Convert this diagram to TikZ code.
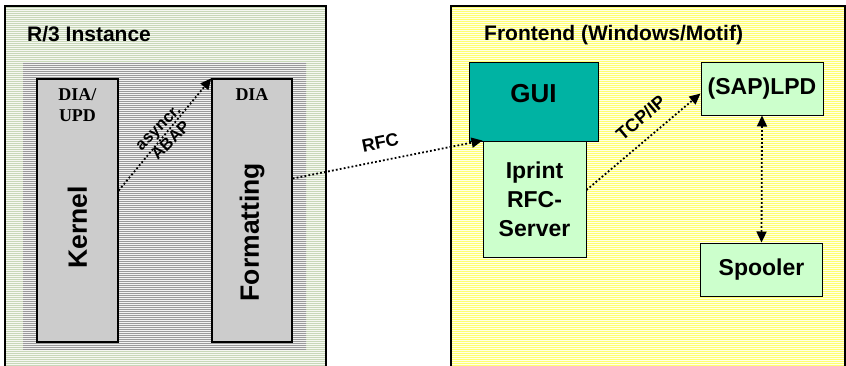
\documentclass[tikz,border=0pt]{standalone}
\usepackage{fontspec}
\setmainfont{Liberation Sans}
\newfontfamily\serifbold{Liberation Serif}
\usetikzlibrary{arrows.meta,patterns.meta,calc}
\definecolor{guiteal}{HTML}{00B3A3}
\definecolor{boxgreen}{HTML}{CCFFCC}
\definecolor{boxgray}{HTML}{CCCCCC}
\definecolor{hatchgreen}{HTML}{C8D8B8}
\definecolor{tintgreen}{HTML}{F6F8F2}
\definecolor{hatchgray}{HTML}{9A9A9A}
\definecolor{tintgray}{HTML}{F2F2F2}
\definecolor{hatchyellow}{HTML}{FFFF70}
\definecolor{tintyellow}{HTML}{FFFFE6}
\tikzstyle{area}=[draw, line width=1.6pt, inner sep=0pt, pattern={Lines[angle=0,distance=2pt,line width=0.9pt]}]
\tikzstyle{procbox}=[draw, line width=1.4pt, fill=boxgray, inner sep=0pt]
\tikzstyle{febox}=[draw, line width=1pt, fill=boxgreen, inner sep=0pt, align=center, font=\fontsize{23}{29}\selectfont\bfseries]
\tikzstyle{link}=[line width=1.8pt, dash pattern=on 1.8pt off 2.2pt]
\tikzstyle{tip}=[-{Triangle[length=11pt,width=10pt]}]

\begin{document}
\begin{tikzpicture}[x=1pt, y=-1pt]
    \useasboundingbox (0,0) rectangle (846,365);

    % the two machines
    \node[area, preaction={fill=tintgreen}, pattern color=hatchgreen, minimum width=321pt, minimum height=366pt] (r3) at (165.5,189) {};
    \node[area, draw=none, preaction={fill=tintgray}, pattern color=hatchgray, minimum width=283pt, minimum height=288pt] (r3core) at (164.5,206) {};
    \node[area, preaction={fill=tintyellow}, pattern color=hatchyellow, minimum width=394pt, minimum height=366pt] (fe) at (648,189) {};
    \node[anchor=west, inner sep=0pt, font=\fontsize{21}{24}\selectfont\bfseries] (r3title) at (27,34) {R/3 Instance};
    \node[anchor=west, inner sep=0pt, font=\fontsize{21}{24}\selectfont\bfseries] (fetitle) at (484,35) {Frontend (Windows/Motif)};

    \foreach \pos/\name/\bw/\bh in {{(77.5,210.5)/kernel/81/263}, {(252,210.5)/format/80/263}}
        \node[procbox, minimum width=\bw pt, minimum height=\bh pt] (\name) at \pos {};
    \node[anchor=north, inner sep=0pt, align=center, font=\serifbold\fontsize{18}{21}\selectfont\bfseries] (kerneltag) at ([yshift=-10.5pt]kernel.north) {DIA/\\UPD};
    \node[anchor=north, inner sep=0pt, font=\serifbold\fontsize{18}{21}\selectfont\bfseries] (formattag) at ([yshift=-10.5pt]format.north) {DIA};
    \node[rotate=90, inner sep=0pt, font=\fontsize{26.5}{30}\selectfont\bfseries] (kerneltext) at ([yshift=-17pt]kernel.center) {Kernel};
    \node[rotate=90, inner sep=0pt, font=\fontsize{26.5}{30}\selectfont\bfseries] (formattext) at ([yshift=-21.5pt]format.center) {Formatting};

    \node[draw, line width=1pt, fill=guiteal, inner sep=0pt, minimum width=129pt, minimum height=79pt] (gui) at (533.5,101.5) {};
    \node[inner sep=0pt, font=\fontsize{26}{30}\selectfont\bfseries] (guitext) at (533.5,94) {GUI};
    \node[febox, minimum width=103pt, minimum height=116pt] (iprint) at (534.5,199) {Iprint\\RFC-\\Server};
    \foreach \pos/\name/\txt in {{(762,88.5)/lpd/(SAP)LPD}, {(761.5,269.5)/spool/Spooler}}
        \node[febox, minimum width=122pt, minimum height=53pt] (\name) at \pos {\txt};

    \draw[link, tip] ([yshift=20pt]kernel.east) to
        node[midway, rotate=45, align=center, inner sep=0pt, font=\fontsize{16.5}{18}\selectfont\bfseries] (asynctext) {asyncr.\\ABAP} (format.north west);
    \draw[link, tip] ([yshift=32pt]format.east) to
        node[pos=0.48, sloped, above=10.5pt, inner sep=0pt, font=\fontsize{18}{20}\selectfont\bfseries] (rfctext) {RFC} (iprint.north west);
    \draw[link, tip] ([yshift=9pt]iprint.east) to
        node[pos=0.59, sloped, above=12.5pt, inner sep=0pt, font=\fontsize{18}{20}\selectfont\bfseries] (tcptext) {TCP/IP} ([yshift=-5pt]lpd.west);
    \draw[link, {Triangle[length=11pt,width=10pt]}-{Triangle[length=11pt,width=10pt]}] (lpd.south) to (spool.north);
%    \draw[link, tip] (gui.south) to (iprint.north);

\end{tikzpicture}
\end{document}
